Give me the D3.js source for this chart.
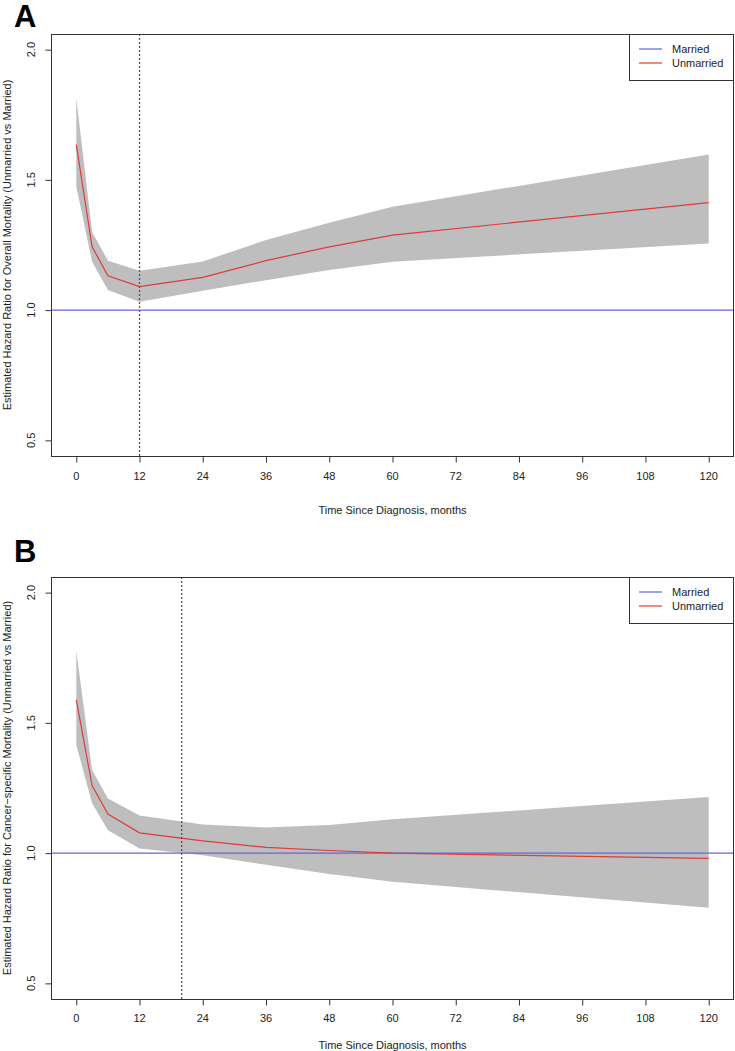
<!DOCTYPE html>
<html>
<head>
<meta charset="utf-8">
<script src="https://cdn.jsdelivr.net/npm/d3@7"></script>
<style>
  html, body { margin: 0; padding: 0; background: #fff; }
  svg { display: block; font-family: "Liberation Sans", Arial, sans-serif; }
</style>
</head>
<body>
<svg id="chart" width="735" height="1051"></svg>
<script>
// ---------- data ----------
const months = [0, 3, 6, 12, 24, 36, 48, 60, 120];

// Panel A: overall mortality
const hrA    = [1.635, 1.243, 1.132, 1.090, 1.126, 1.190, 1.243, 1.288, 1.413];
const upperA = [1.814, 1.300, 1.190, 1.151, 1.187, 1.269, 1.335, 1.397, 1.597];
const lowerA = [1.474, 1.186, 1.077, 1.032, 1.074, 1.115, 1.154, 1.186, 1.256];

// Panel B: cancer-specific mortality
const hrB    = [1.588, 1.259, 1.150, 1.078, 1.047, 1.022, 1.010, 1.000, 0.980];
const upperB = [1.777, 1.319, 1.210, 1.144, 1.110, 1.098, 1.108, 1.130, 1.215];
const lowerB = [1.415, 1.191, 1.088, 1.018, 0.992, 0.955, 0.920, 0.890, 0.790];

const xTicks = [0, 12, 24, 36, 48, 60, 72, 84, 96, 108, 120];
const yTicks = [0.5, 1.0, 1.5, 2.0];
const yTickLabels = ["0.5", "1.0", "1.5", "2.0"];
const legendLabels = ["Married", "Unmarried"];
const referenceHR = 1.0;
const cutA = 12, cutB = 20;
const panelLabels = ["A", "B"];
const yTitles = [
  "Estimated Hazard Ratio for Overall Mortality (Unmarried vs Married)",
  "Estimated Hazard Ratio for Cancer\u2212specific Mortality (Unmarried vs Married)"
];
const xTitle = "Time Since Diagnosis, months";

// ---------- drawing ----------
const svg = d3.select("#chart");
const left = 51, right = 734;
const colMarried = "#6464dc", colUnmarried = "#e03a3a", colBand = "#bebebe";

const panels = [
  { label: panelLabels[0], top: 34, bottom: 456, hr: hrA, hi: upperA, lo: lowerA, cut: cutA,
    yTitle: yTitles[0], labelBase: 27, tickLabelY: 480, titleY: 514 },
  { label: panelLabels[1], top: 577, bottom: 999, hr: hrB, hi: upperB, lo: lowerB, cut: cutB,
    yTitle: yTitles[1], labelBase: 562, tickLabelY: 1022, titleY: 1049 }
];

panels.forEach((p, i) => {
  const x = d3.scaleLinear().domain([-4.8, 124.8]).range([left, right]);
  const y = d3.scaleLinear().domain([0.44, 2.06]).range([p.bottom, p.top]);
  const g = svg.append("g");

  const clipId = "clip" + i;
  g.append("clipPath").attr("id", clipId)
    .append("rect").attr("x", left).attr("y", p.top)
    .attr("width", right - left).attr("height", p.bottom - p.top);

  const plot = g.append("g").attr("clip-path", `url(#${clipId})`);

  // confidence band
  const area = d3.area()
    .x((d, k) => x(months[k]))
    .y0((d, k) => y(p.lo[k]))
    .y1((d, k) => y(p.hi[k]));
  plot.append("path").datum(months).attr("d", area).attr("fill", colBand);

  // reference line (married)
  plot.append("line")
    .attr("x1", left).attr("x2", right)
    .attr("y1", y(referenceHR)).attr("y2", y(referenceHR))
    .attr("stroke", colMarried).attr("stroke-width", 1.2);

  // hazard ratio line
  const line = d3.line().x((d, k) => x(months[k])).y((d, k) => y(p.hr[k]));
  plot.append("path").datum(months).attr("d", line)
    .attr("fill", "none").attr("stroke", colUnmarried).attr("stroke-width", 1.2);

  // dotted cut line
  plot.append("line")
    .attr("x1", x(p.cut)).attr("x2", x(p.cut))
    .attr("y1", p.top).attr("y2", p.bottom)
    .attr("stroke", "#555").attr("stroke-width", 1.3)
    .attr("stroke-dasharray", "2,2");

  // box
  g.append("rect").attr("x", left + 0.5).attr("y", p.top + 0.5)
    .attr("width", right - left - 1).attr("height", p.bottom - p.top)
    .attr("fill", "none").attr("stroke", "#333").attr("stroke-width", 1);

  // x axis
  const xa = g.append("g").attr("transform", `translate(0,${p.bottom + 0.5})`)
    .call(d3.axisBottom(x).tickValues(xTicks).tickSize(6).tickSizeOuter(0).tickFormat(d3.format("d")));
  xa.select(".domain").remove();
  xa.selectAll("line").attr("stroke", "#333");
  xa.selectAll("text").remove();
  g.selectAll(".xtl").data(xTicks).enter().append("text")
    .attr("x", d => x(d)).attr("y", p.tickLabelY)
    .attr("text-anchor", "middle").attr("font-size", 11).attr("fill", "#222")
    .text(d => d);

  // y axis
  const ya = g.append("g").attr("transform", `translate(${left + 0.5},0)`)
    .call(d3.axisLeft(y).tickValues(yTicks).tickSize(6).tickSizeOuter(0));
  ya.select(".domain").remove();
  ya.selectAll("line").attr("stroke", "#333");
  ya.selectAll("text").remove();
  g.selectAll(".ytl").data(yTicks).enter().append("text")
    .attr("transform", d => `translate(35,${y(d)}) rotate(-90)`)
    .attr("text-anchor", "middle").attr("font-size", 11).attr("fill", "#222")
    .text((d, k) => yTickLabels[k]);

  // axis titles
  g.append("text").attr("x", (left + right) / 2).attr("y", p.titleY)
    .attr("text-anchor", "middle").attr("font-size", 11).attr("fill", "#222").text(xTitle);
  g.append("text")
    .attr("transform", `translate(11,${(p.top + p.bottom) / 2}) rotate(-90)`)
    .attr("text-anchor", "middle").attr("font-size", 11).attr("fill", "#222").text(p.yTitle);

  // panel label
  g.append("text").attr("x", 14).attr("y", p.labelBase)
    .attr("font-size", 31).attr("font-weight", "bold").attr("fill", "#000").text(p.label);

  // legend
  const lg = g.append("g");
  lg.append("rect").attr("x", 629.5).attr("y", p.top + 0.5).attr("width", 104).attr("height", 46)
    .attr("fill", "#fff").attr("stroke", "#333");
  [colMarried, colUnmarried].forEach((c, k) => {
    const ly = p.top + 15 + k * 14;
    lg.append("line").attr("x1", 639).attr("x2", 662).attr("y1", ly).attr("y2", ly)
      .attr("stroke", c).attr("stroke-width", 1.2);
    lg.append("text").attr("x", 672).attr("y", ly + 4).attr("font-size", 11).attr("fill", "#222")
      .text(legendLabels[k]);
  });
});
</script>
</body>
</html>
